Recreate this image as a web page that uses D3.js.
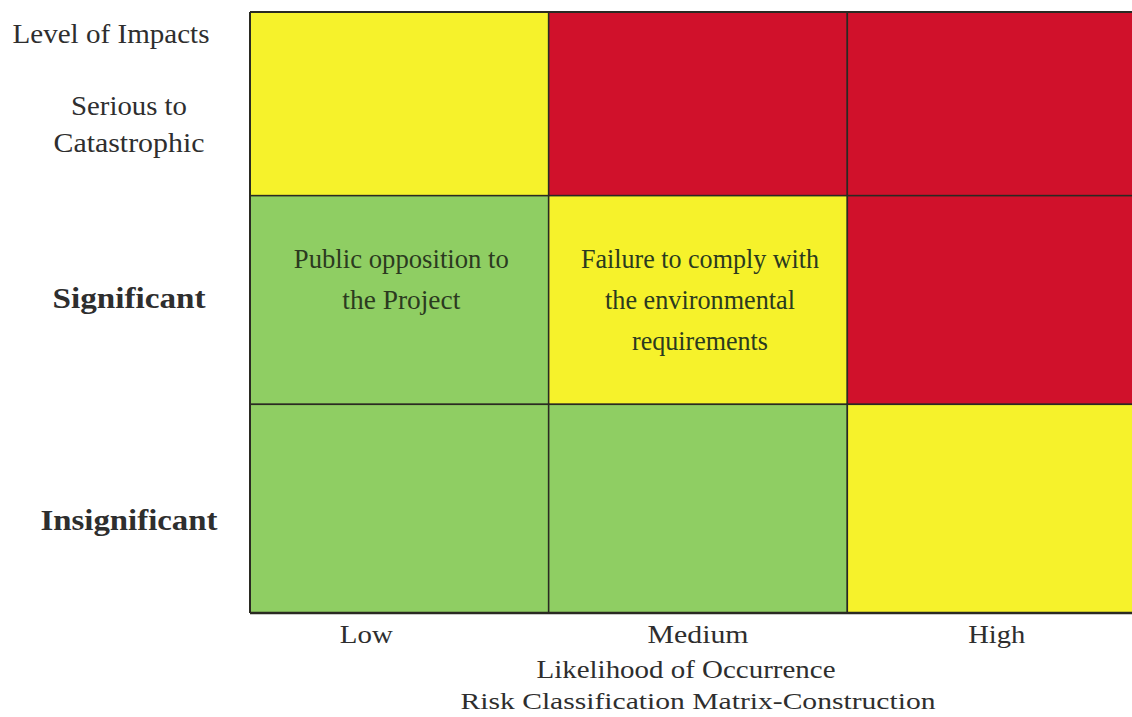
<!DOCTYPE html>
<html>
<head>
<meta charset="utf-8">
<script src="https://cdn.jsdelivr.net/npm/d3@7"></script>
<style>
  html, body { margin: 0; padding: 0; background: #fff; }
  svg { display: block; }
  text { font-family: "Liberation Serif", "Times New Roman", Times, serif; }
</style>
</head>
<body>
<svg id="chart" width="1132" height="717"></svg>
<script>
// ---- data ----
const likelihood = ["Low", "Medium", "High"];
const impactLevels = ["Serious to Catastrophic", "Significant", "Insignificant"];
const impactLabelLines = [["Serious to", "Catastrophic"], ["Significant"], ["Insignificant"]];
// risk class per cell: rows = impact levels (top to bottom), cols = likelihood
const riskRows = [
  ["Medium", "High", "High"],
  ["Low", "Medium", "High"],
  ["Low", "Low", "Medium"]
];
const riskClasses = ["Low", "Medium", "High"];
const riskColors = ["#8fce63", "#f6f22b", "#d0112b"];
// risks placed in cells
const riskItems = [
  { impact: "Significant", likelihood: "Low", lines: ["Public opposition to", "the Project"] },
  { impact: "Significant", likelihood: "Medium", lines: ["Failure to comply with", "the environmental", "requirements"] }
];
const yAxisTitle = "Level of Impacts";
const xAxisTitle = "Likelihood of Occurrence";
const chartTitle = "Risk Classification Matrix-Construction";

// ---- layout ----
const svg = d3.select("#chart");
const x = d3.scaleBand().domain(likelihood).range([250, 1146]);
const y = d3.scaleBand().domain(impactLevels).range([-13, 613]);
const color = d3.scaleOrdinal().domain(riskClasses).range(riskColors);
const clipTop = 12;

svg.append("clipPath").attr("id", "gridClip")
  .append("rect").attr("x", 250).attr("y", clipTop).attr("width", 1132 - 250).attr("height", 613 - clipTop);

const cells = [];
impactLevels.forEach((imp, r) => likelihood.forEach((lk, c) => cells.push({ imp, lk, cls: riskRows[r][c] })));

const grid = svg.append("g").attr("clip-path", "url(#gridClip)");
grid.selectAll("rect.cell").data(cells).join("rect")
  .attr("class", "cell")
  .attr("x", d => x(d.lk))
  .attr("y", d => y(d.imp))
  .attr("width", x.bandwidth())
  .attr("height", y.bandwidth())
  .attr("fill", d => color(d.cls))
  .attr("stroke", "#2a2a22")
  .attr("stroke-width", 1.5);

// outer border (top, left, bottom)
svg.append("line").attr("x1", 250).attr("x2", 1132).attr("y1", clipTop).attr("y2", clipTop)
  .attr("stroke", "#2a2a22").attr("stroke-width", 2);
svg.append("line").attr("x1", 250).attr("x2", 250).attr("y1", clipTop).attr("y2", y.range()[1])
  .attr("stroke", "#2a2a22").attr("stroke-width", 2);
svg.append("line").attr("x1", 250).attr("x2", 1132).attr("y1", y.range()[1]).attr("y2", y.range()[1])
  .attr("stroke", "#2a2a22").attr("stroke-width", 2.5);

// cell texts
const cellTextWidths = [[215, 118], [238, 190, 136]];
riskItems.forEach((item, i) => {
  const cx = x(item.likelihood) + x.bandwidth() / 2 + 2;
  const top = y(item.impact);
  item.lines.forEach((ln, j) => {
    svg.append("text")
      .attr("x", cx)
      .attr("y", top + 72 + j * 41)
      .attr("text-anchor", "middle")
      .attr("font-size", 28)
      .attr("fill", "#2b3a1f")
      .attr("textLength", cellTextWidths[i][j])
      .attr("lengthAdjust", "spacingAndGlyphs")
      .text(ln);
  });
});

// y-axis title
svg.append("text").attr("x", 111).attr("y", 43).attr("text-anchor", "middle")
  .attr("font-size", 28).attr("fill", "#2e2e2e")
  .attr("textLength", 197).attr("lengthAdjust", "spacingAndGlyphs")
  .text(yAxisTitle);

// y-axis category labels
const yLabelSpecs = [
  { baselines: [115, 152], size: 27, weight: "normal", widths: [116, 151] },
  { baselines: [308], size: 30, weight: "bold", widths: [153] },
  { baselines: [530], size: 30, weight: "bold", widths: [177] }
];
impactLevels.forEach((imp, i) => {
  const spec = yLabelSpecs[i];
  impactLabelLines[i].forEach((ln, j) => {
    svg.append("text")
      .attr("x", 129)
      .attr("y", spec.baselines[j])
      .attr("text-anchor", "middle")
      .attr("font-size", spec.size)
      .attr("font-weight", spec.weight)
      .attr("fill", "#2e2e2e")
      .attr("textLength", spec.widths[j])
      .attr("lengthAdjust", "spacingAndGlyphs")
      .text(ln);
  });
});

// x-axis labels
const xLabelOffsets = { Low: -33, Medium: 0, High: 0 };
const xLabelWidths = { Low: 53, Medium: 101, High: 57 };
svg.selectAll("text.xlab").data(likelihood).join("text")
  .attr("class", "xlab")
  .attr("x", d => x(d) + x.bandwidth() / 2 + xLabelOffsets[d])
  .attr("y", 643)
  .attr("text-anchor", "middle")
  .attr("font-size", 26)
  .attr("fill", "#2e2e2e")
  .attr("textLength", d => xLabelWidths[d])
  .attr("lengthAdjust", "spacingAndGlyphs")
  .text(d => d);

svg.append("text").attr("x", 686).attr("y", 678).attr("text-anchor", "middle")
  .attr("font-size", 26).attr("fill", "#2e2e2e")
  .attr("textLength", 299).attr("lengthAdjust", "spacingAndGlyphs")
  .text(xAxisTitle);

svg.append("text").attr("x", 698).attr("y", 709).attr("text-anchor", "middle")
  .attr("font-size", 24).attr("fill", "#2e2e2e")
  .attr("textLength", 475).attr("lengthAdjust", "spacingAndGlyphs")
  .text(chartTitle);
</script>
</body>
</html>
